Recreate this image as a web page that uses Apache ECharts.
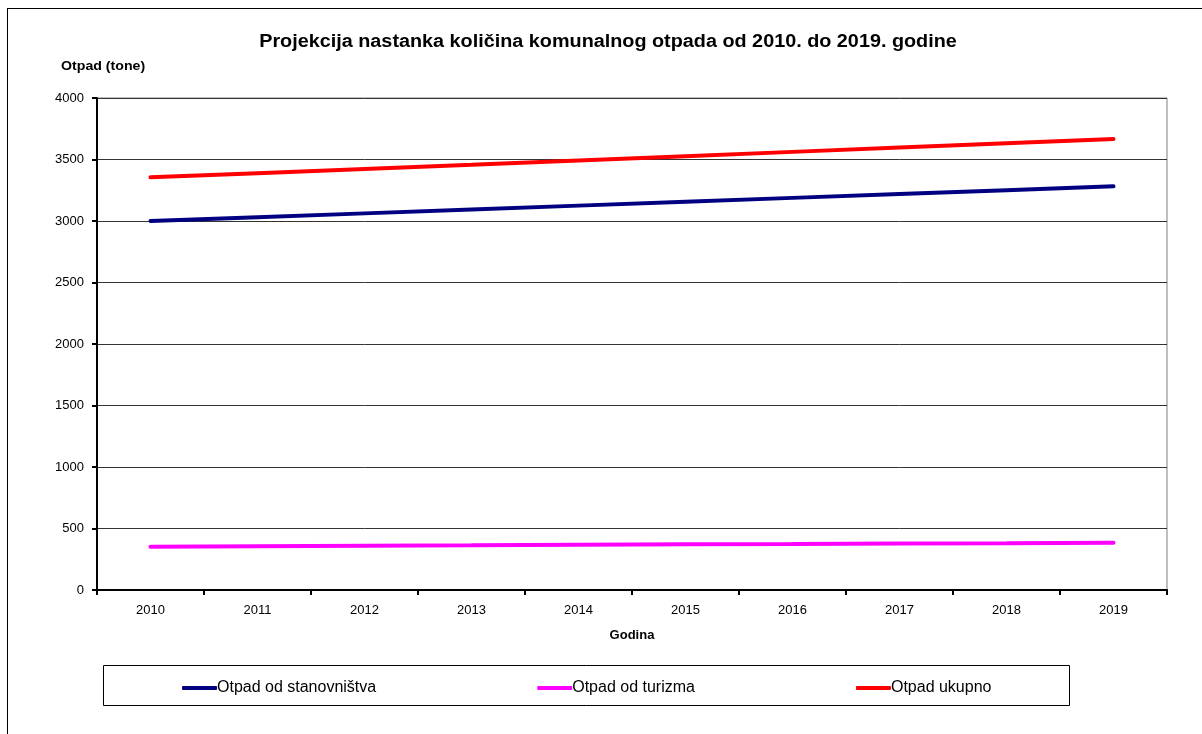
<!DOCTYPE html>
<html><head><meta charset="utf-8">
<script src="https://cdn.jsdelivr.net/npm/echarts@6/dist/echarts.min.js"></script>
<style>
html,body{margin:0;padding:0;background:#fff;width:1202px;height:734px;overflow:hidden;}
#frame{position:absolute;left:7px;top:8px;width:1300px;height:800px;border-left:1.5px solid #000;border-top:1.5px solid #000;}
#c{position:absolute;left:0;top:0;width:1202px;height:734px;}
</style></head>
<body><div id="frame"></div><div id="c"></div>
<script>
const years = ['2010','2011','2012','2013','2014','2015','2016','2017','2018','2019'];
const stanovnistvo = [3000, 3031, 3062, 3094, 3125, 3157, 3188, 3219, 3251, 3282];
const turizam = [352, 356, 360, 363, 367, 371, 374, 378, 381, 385];
const ukupno = [3355, 3389, 3423, 3457, 3492, 3527, 3562, 3597, 3632, 3667];
const yTicks = [0, 500, 1000, 1500, 2000, 2500, 3000, 3500, 4000];
const seriesNames = ['Otpad od stanovništva', 'Otpad od turizma', 'Otpad ukupno'];
const titleText = 'Projekcija nastanka količina komunalnog otpada od 2010. do 2019. godine';

const F = 'Liberation Sans, Arial, sans-serif';
const chart = echarts.init(document.getElementById('c'), null, {renderer:'canvas'});
chart.setOption({
  animation:false,
  grid:{left:97, right:35, top:98, bottom:144, show:true, borderColor:'#808080', borderWidth:1},
  graphic:[
    {type:'rect', left:103, top:665, shape:{width:966, height:40}, style:{fill:'#fff', stroke:'#000', lineWidth:1}, z:0},
    {type:'text', x:608, y:42, scaleX:1.1, style:{text:titleText, font:'bold 18px '+F, fill:'#000', textAlign:'center', textVerticalAlign:'middle'}},
    {type:'text', x:61, y:67, scaleX:1.18, style:{text:'Otpad (tone)', font:'bold 12px '+F, fill:'#000', textAlign:'left', textVerticalAlign:'middle'}}
  ],
  legend:{left:177, top:675, itemGap:161, icon:'roundRect', itemWidth:35, itemHeight:4,
    textStyle:{fontFamily:F, fontSize:16, color:'#000', padding:[0,0,0,-5]}, data:seriesNames, z:5},
  xAxis:{type:'category', data:years, boundaryGap:true,
    name:'Godina', nameLocation:'middle', nameGap:39,
    nameTextStyle:{fontFamily:F, fontSize:13, fontWeight:'bold', color:'#000'},
    axisLine:{lineStyle:{color:'#000', width:2}},
    axisTick:{show:true, length:5, lineStyle:{color:'#000', width:2}},
    axisLabel:{fontFamily:F, fontSize:13, color:'#000', margin:14}},
  yAxis:{type:'value', min:0, max:4000, interval:500,
    axisLine:{show:true, lineStyle:{color:'#000', width:2}},
    axisTick:{show:true, length:5, lineStyle:{color:'#000', width:2}},
    axisLabel:{fontFamily:F, fontSize:13, color:'#000', margin:13,
      formatter:v=>yTicks.includes(v)?String(v):''},
    splitLine:{show:true, lineStyle:{color:'#333', width:1}}},
  series:[
    {name:seriesNames[0], type:'line', data:stanovnistvo, symbol:'none', color:'#000080', lineStyle:{width:4, color:'#000080', cap:'round'}},
    {name:seriesNames[1], type:'line', data:turizam, symbol:'none', color:'#FF00FF', lineStyle:{width:4, color:'#FF00FF', cap:'round'}},
    {name:seriesNames[2], type:'line', data:ukupno, symbol:'none', color:'#FF0000', lineStyle:{width:4, color:'#FF0000', cap:'round'}}
  ]
});
</script></body></html>
